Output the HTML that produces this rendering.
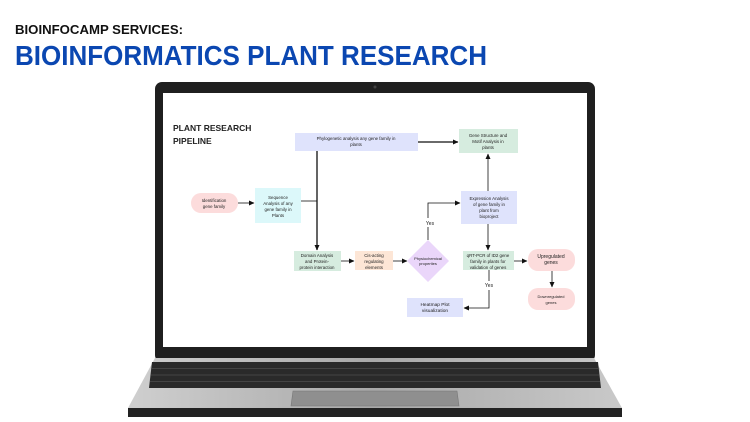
<!DOCTYPE html>
<html><head><meta charset="utf-8"><style>
html,body{margin:0;padding:0;background:#fff;width:750px;height:422px;overflow:hidden}
svg{display:block}
text{font-family:"Liberation Sans",sans-serif}
</style></head><body>
<svg width="750" height="422" viewBox="0 0 750 422" xmlns="http://www.w3.org/2000/svg">
<defs>
<marker id="a" markerWidth="6" markerHeight="6" refX="5" refY="3" orient="auto" markerUnits="userSpaceOnUse"><path d="M0,0.5 L5.5,3 L0,5.5z" fill="#111"/></marker>
<linearGradient id="base" x1="0" x2="1"><stop offset="0" stop-color="#cfcfcf"/><stop offset="0.5" stop-color="#a8a8a8"/><stop offset="1" stop-color="#c9c9c9"/></linearGradient>
</defs>
<text x="15" y="34" font-size="13" font-weight="bold" fill="#111" textLength="168" lengthAdjust="spacingAndGlyphs">BIOINFOCAMP SERVICES:</text>
<text x="15" y="65" font-size="28" font-weight="bold" fill="#0b47b1" textLength="472" lengthAdjust="spacingAndGlyphs">BIOINFORMATICS PLANT RESEARCH</text>
<!-- laptop lid -->
<rect x="155" y="82" width="440" height="280" rx="7" fill="#1f1f1f"/>
<rect x="163" y="93" width="424" height="254" fill="#fff"/>
<circle cx="375" cy="87" r="1.5" fill="#444"/>
<!-- base -->
<path d="M155,358 L594,358 L622,408 L128,408 Z" fill="url(#base)"/>
<rect x="128" y="408" width="494" height="9" fill="#222"/>
<path d="M152,362 L598,362 L601,388 L149,388 Z" fill="#2a2a2a"/>
<g stroke="#444" stroke-width="1">
<line x1="152" y1="368.5" x2="598" y2="368.5"/><line x1="151" y1="375" x2="599" y2="375"/><line x1="150" y1="381.5" x2="600" y2="381.5"/>
</g>
<path d="M293,391 L457,391 L459,406 L291,406 Z" fill="#8f8f8f" stroke="#777" stroke-width="0.6"/>
<!-- diagram -->
<text x="173" y="131" font-size="8.5" font-weight="bold" fill="#222">PLANT RESEARCH</text>
<text x="173" y="144" font-size="8.5" font-weight="bold" fill="#222">PIPELINE</text>
<g stroke="#111" stroke-width="0.8" fill="none">
<line x1="238" y1="203" x2="254" y2="203" marker-end="url(#a)"/>
<line x1="301" y1="201" x2="317" y2="201"/>
<line x1="317" y1="151" x2="317" y2="250" stroke-width="1.3" marker-end="url(#a)"/>
<line x1="418" y1="142" x2="458" y2="142" stroke-width="1.3" marker-end="url(#a)"/>
<line x1="341" y1="261" x2="354" y2="261" marker-end="url(#a)"/>
<line x1="393" y1="261" x2="407" y2="261" marker-end="url(#a)"/>
<polyline points="428,240 428,203 460,203" marker-end="url(#a)"/>
<line x1="488" y1="224" x2="488" y2="250" marker-end="url(#a)"/>
<line x1="488" y1="191" x2="488" y2="154" marker-end="url(#a)"/>
<line x1="514" y1="261" x2="527" y2="261" marker-end="url(#a)"/>
<line x1="552" y1="271" x2="552" y2="287" marker-end="url(#a)"/>
<polyline points="489,270 489,308 464,308" marker-end="url(#a)"/>
</g>
<rect x="424" y="218" width="12" height="9" fill="#fff"/>
<text x="430" y="225" font-size="5" text-anchor="middle" fill="#222">Yes</text>
<rect x="483" y="281" width="12" height="9" fill="#fff"/>
<text x="489" y="287" font-size="5" text-anchor="middle" fill="#222">Yes</text>
<g font-size="4.4" fill="#222" text-anchor="middle">
<rect x="295" y="133" width="123" height="18" fill="#dfe3fc"/>
<text x="356" y="140">Phylogenetic analysis any gene family in</text><text x="356" y="146">plants</text>
<rect x="459" y="129" width="59" height="24" fill="#d6ecdf"/>
<text x="488" y="137">Gene Structure and</text><text x="488" y="143">Motif Analysis in</text><text x="488" y="149">plants</text>
<rect x="191" y="193" width="47" height="20" rx="10" fill="#fcdcdc"/>
<text x="214" y="202">Identification</text><text x="214" y="208">gene family</text>
<rect x="255" y="188" width="46" height="35" fill="#dcf8fa"/>
<text x="278" y="199">Sequence</text><text x="278" y="205">Analysis of any</text><text x="278" y="211">gene family in</text><text x="278" y="217">Plants</text>
<rect x="461" y="191" width="56" height="33" fill="#dfe3fc"/>
<text x="489" y="200">Expression Analysis</text><text x="489" y="206">of gene family in</text><text x="489" y="212">plant from</text><text x="489" y="218">bioproject</text>
<rect x="294" y="251" width="47" height="20" fill="#d6ecdf"/>
<text x="317" y="257">Domain Analysis</text><text x="317" y="263">and Protein-</text><text x="317" y="269">protein interaction</text>
<rect x="355" y="251" width="38" height="19" fill="#fde6d6"/>
<text x="374" y="257">Cis-acting</text><text x="374" y="263">regulating</text><text x="374" y="269">elements</text>
<polygon points="428,240 449,261 428,282 407,261" fill="#ead6fa"/>
<text x="428" y="260" font-size="4">Physiochemical</text><text x="428" y="265" font-size="4">properties</text>
<rect x="463" y="251" width="51" height="19" fill="#d6ecdf"/>
<text x="488" y="257">qRT-PCR of ID2 gene</text><text x="488" y="263">family in plants for</text><text x="488" y="269">validation of genes</text>
<rect x="528" y="249" width="47" height="22" rx="10" fill="#fcdcdc"/>
<text x="551" y="258" font-size="5">Upregulated</text><text x="551" y="264" font-size="5">genes</text>
<rect x="528" y="288" width="47" height="22" rx="10" fill="#fcdcdc"/>
<text x="551" y="298" font-size="4">Downregulated</text><text x="551" y="304" font-size="4">genes</text>
<rect x="407" y="298" width="56" height="19" fill="#dfe3fc"/>
<text x="435" y="306" font-size="4.8">Heatmap Plot</text><text x="435" y="312" font-size="4.8">visualization</text>
</g>
</svg>
</body></html>
